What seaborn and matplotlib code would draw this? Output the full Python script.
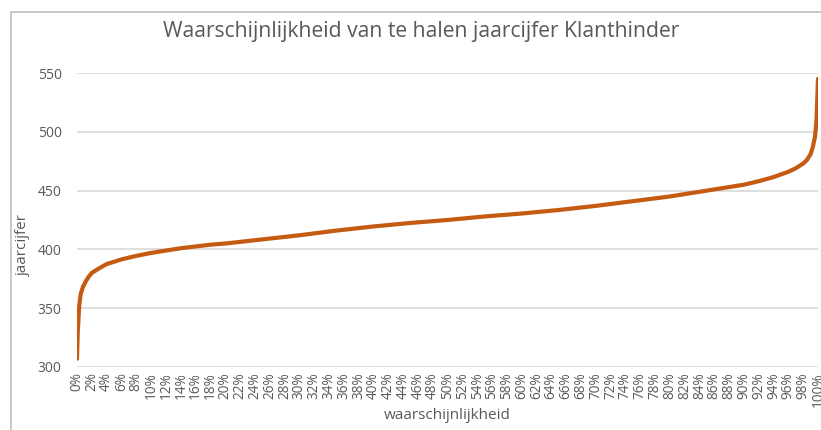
#!/usr/bin/env python3

import numpy as np
import pandas as pd
import seaborn as sns
import matplotlib.pyplot as plt
from matplotlib.patches import Rectangle
from matplotlib.ticker import FuncFormatter

# Percentile (in %) and the jaarcijfer at that point
percentiles = [0, 0.1, 0.3, 0.5, 0.8, 1.2, 1.6, 2, 3, 4, 6, 8, 10, 12, 14,
               16, 18, 20, 25, 30, 35, 40, 45, 50, 55, 60, 65, 70, 75, 80,
               85, 90, 92, 94, 96, 97, 98, 98.5, 99, 99.3, 99.6, 99.8, 100]
jaarcijfer = [307, 330, 352, 362, 368, 373, 377, 380, 384, 387.5, 391.5,
              394.5, 397, 399, 401, 402.5, 404, 405, 408.5, 412, 416,
              419.5, 422.5, 425, 428, 430.5, 433.5, 437, 441, 445, 450,
              455, 458, 461.5, 466, 469, 473, 476, 481, 487, 496, 510, 545]

tick_pcts = list(range(0, 101, 2))
y_ticks = [300, 350, 400, 450, 500, 550]

TITLE = 'Waarschijnlijkheid van te halen jaarcijfer Klanthinder'
X_LABEL = 'waarschijnlijkheid'
Y_LABEL = 'jaarcijfer'

TEXT_GREY = '#595959'
LINE_COLOR = '#C55A11'


def main() -> None:
    sns.set_style('white')
    plt.rcParams['font.family'] = ['Open Sans', 'DejaVu Sans']

    df = pd.DataFrame({'pct': percentiles, 'jaarcijfer': jaarcijfer})

    fig = plt.figure(figsize=(8.21, 4.30), dpi=100)
    ax = fig.add_axes([77 / 821, 1 - 367 / 430, 741 / 821, 294 / 430])

    sns.lineplot(data=df, x='pct', y='jaarcijfer', ax=ax,
                 color=LINE_COLOR, linewidth=3.0, estimator=None)

    ax.set_xlim(0, 100)
    ax.set_ylim(300, 550)
    ax.set_yticks(y_ticks)
    ax.set_xticks(tick_pcts)
    ax.xaxis.set_major_formatter(FuncFormatter(lambda v, _: f'{int(round(v))}%'))
    ax.tick_params(axis='x', labelrotation=90, labelsize=9.8,
                   colors=TEXT_GREY, length=0, pad=4)
    ax.tick_params(axis='y', labelsize=10, colors=TEXT_GREY, length=0, pad=11)

    ax.grid(axis='y', color='#D9D9D9', linewidth=1.2)
    ax.grid(axis='x', visible=False)
    ax.set_axisbelow(True)
    for side in ['top', 'right', 'left', 'bottom']:
        ax.spines[side].set_visible(False)

    ax.set_xlabel(X_LABEL, fontsize=11, color=TEXT_GREY, labelpad=1)
    ax.set_ylabel(Y_LABEL, fontsize=11, color=TEXT_GREY)
    ax.yaxis.set_label_coords((31 - 77) / 741, 0.415)

    fig.text(421 / 821, 1 - 31 / 430, TITLE, ha='center', va='center',
             fontsize=15.2, color=TEXT_GREY)

    # Chart frame
    fig.patches.append(Rectangle((11 / 821, -0.05), 1.2, 1 - 12 / 430 + 0.05,
                                 transform=fig.transFigure, fill=False,
                                 edgecolor='#BFBFBF', linewidth=1.2))

    fig.savefig('out.png', dpi=100)
    plt.close()


if __name__ == "__main__":
    main()
